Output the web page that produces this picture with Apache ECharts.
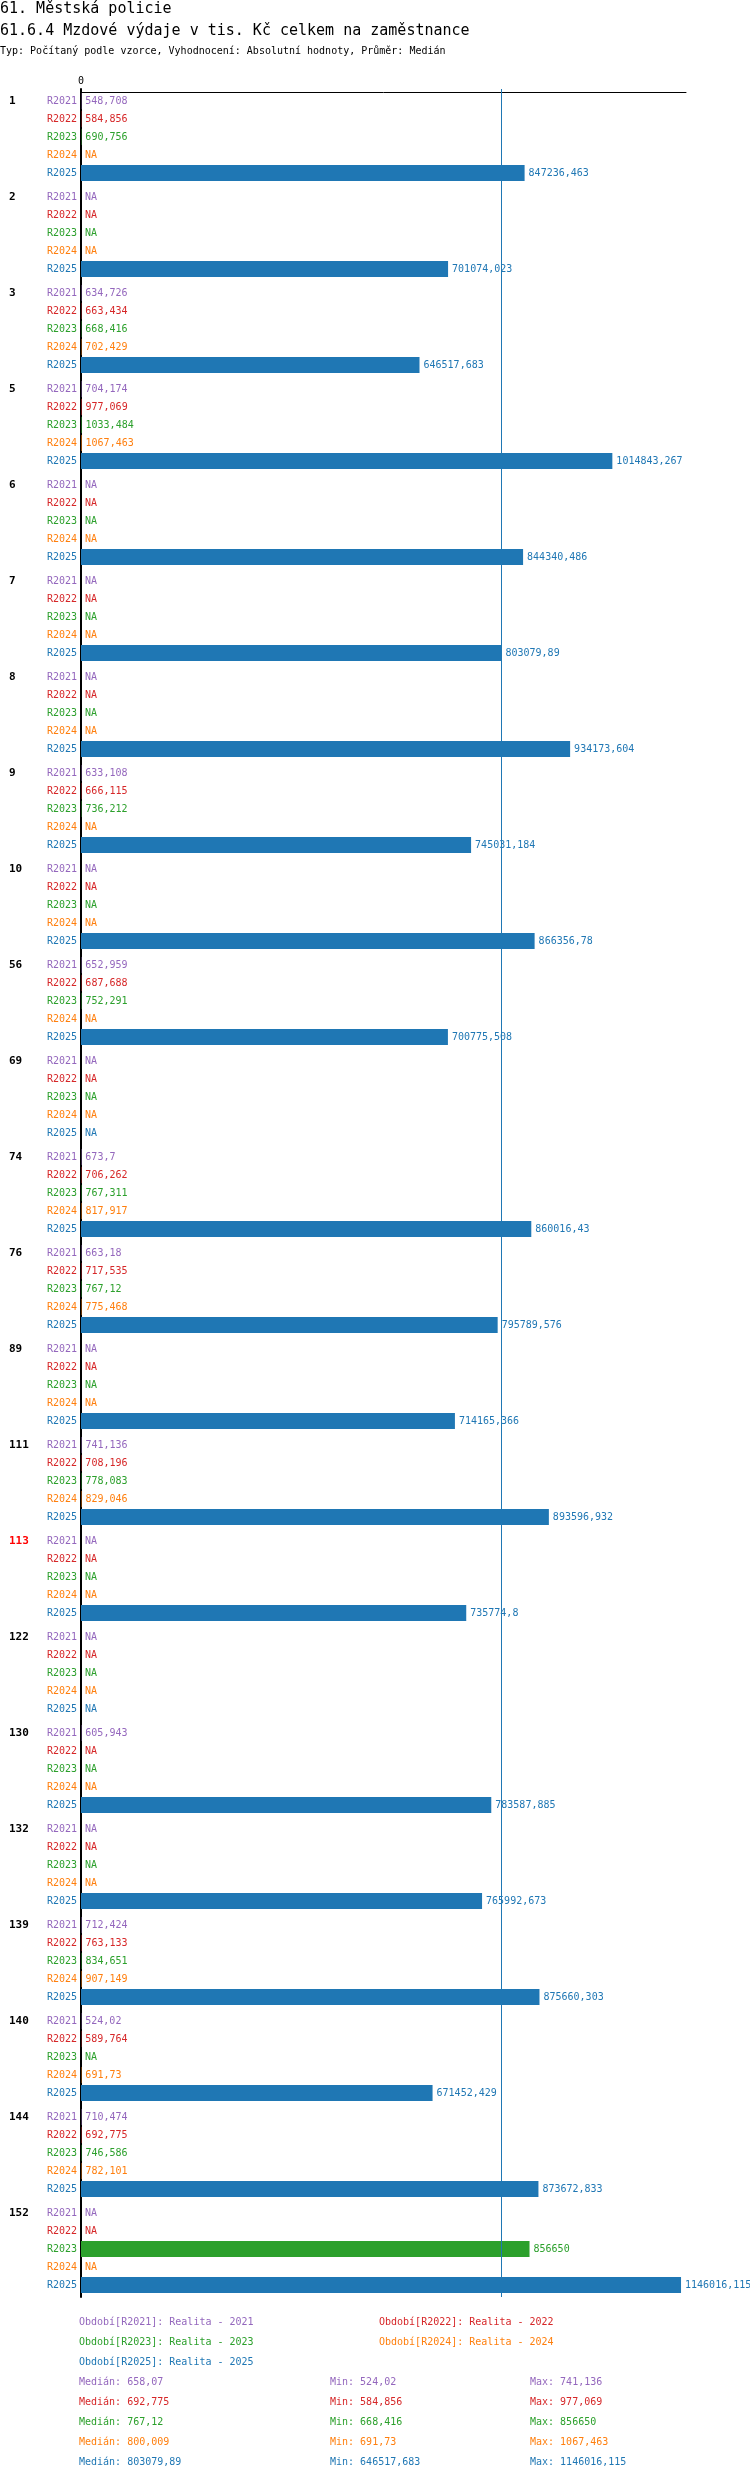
<!DOCTYPE html>
<html>
<head>
<meta charset="utf-8">
<script src="https://cdn.jsdelivr.net/npm/echarts@6/dist/echarts.min.js"></script>
<style>
  html, body { margin: 0; padding: 0; background: #fff; }
  #chart { width: 750px; height: 2480px; }
</style>
</head>
<body>
<div id="chart"></div>
<script>
// kategorie (obce) a hodnoty za jednotlivá období
var groups = ['1', '2', '3', '5', '6', '7', '8', '9', '10', '56', '69', '74', '76', '89', '111', '113', '122', '130', '132', '139', '140', '144', '152'];
var periods = ['R2021', 'R2022', 'R2023', 'R2024', 'R2025'];
var periodNames = ['Realita - 2021', 'Realita - 2022', 'Realita - 2023', 'Realita - 2024', 'Realita - 2025'];

var r2021 = [548.708, null, 634.726, 704.174, null, null, null, 633.108, null, 652.959, null, 673.7, 663.18, null, 741.136, null, null, 605.943, null, 712.424, 524.02, 710.474, null];
var r2022 = [584.856, null, 663.434, 977.069, null, null, null, 666.115, null, 687.688, null, 706.262, 717.535, null, 708.196, null, null, null, null, 763.133, 589.764, 692.775, null];
var r2023 = [690.756, null, 668.416, 1033.484, null, null, null, 736.212, null, 752.291, null, 767.311, 767.12, null, 778.083, null, null, null, null, 834.651, null, 746.586, 856650];
var r2024 = [null, null, 702.429, 1067.463, null, null, null, null, null, null, null, 817.917, 775.468, null, 829.046, null, null, null, null, 907.149, 691.73, 782.101, null];
var r2025 = [847236.463, 701074.023, 646517.683, 1014843.267, 844340.486, 803079.89, 934173.604, 745031.184, 866356.78, 700775.508, null, 860016.43, 795789.576, 714165.366, 893596.932, 735774.8, null, 783587.885, 765992.673, 875660.303, 671452.429, 873672.833, 1146016.115];

// medián za období (jak je uveden v souhrnu)
var medians = [658.07, 692.775, 767.12, 800.009, 803079.89];

var values = [r2021, r2022, r2023, r2024, r2025];
var colors = ['#9467bd', '#d62728', '#2ca02c', '#ff7f0e', '#1f77b4'];
var xMax = 1155500;
var FONT = 'DejaVu Sans Mono';

function fmt(v) {
  if (v === null || v === undefined) return 'NA';
  return String(v).replace('.', ',');
}
function notNull(arr) {
  return arr.filter(function (v) { return v !== null; });
}

var chart = echarts.init(document.getElementById('chart'));

// sloupce - pro každé období jedna "popisková" řada a jedna hodnotová
var series = [];
periods.forEach(function (p, i) {
  series.push({
    type: 'bar',
    name: p + '_lbl',
    stack: 's' + i,
    barWidth: 16,
    barGap: '12.5%',
    silent: true,
    data: groups.map(function () { return 0; }),
    itemStyle: { color: colors[i] },
    label: {
      show: true,
      position: 'left',
      distance: 4,
      formatter: p,
      color: colors[i],
      fontFamily: FONT,
      fontSize: 10
    }
  });
  var s = {
    type: 'bar',
    name: p,
    stack: 's' + i,
    barWidth: 16,
    barGap: '12.5%',
    silent: true,
    data: values[i].map(function (v) { return v === null ? 0 : v; }),
    itemStyle: { color: colors[i] },
    label: {
      show: true,
      position: 'right',
      distance: 4,
      formatter: function (params) { return fmt(values[i][params.dataIndex]); },
      color: colors[i],
      fontFamily: FONT,
      fontSize: 10
    }
  };
  if (i === 4) {
    s.markLine = {
      silent: true,
      symbol: 'none',
      label: { show: false },
      lineStyle: { color: colors[4], width: 1, type: 'solid' },
      data: [{ xAxis: medians[4] }]
    };
  }
  series.push(s);
});

// texty nahoře a souhrn dole
var graphics = [
  { type: 'text', x: 0, y: 9, style: { text: '61. Městská policie', font: '15px ' + FONT, fill: '#000', verticalAlign: 'middle' } },
  { type: 'text', x: 0, y: 31, style: { text: '61.6.4 Mzdové výdaje v tis. Kč celkem na zaměstnance', font: '15px ' + FONT, fill: '#000', verticalAlign: 'middle' } },
  { type: 'text', x: 0, y: 51, style: { text: 'Typ: Počítaný podle vzorce, Vyhodnocení: Absolutní hodnoty, Průměr: Medián', font: '10px ' + FONT, fill: '#000', verticalAlign: 'middle' } }
];
periods.forEach(function (p, i) {
  graphics.push({
    type: 'text',
    x: i % 2 === 0 ? 79 : 379,
    y: 2322 + Math.floor(i / 2) * 20,
    style: { text: 'Období[' + p + ']: ' + periodNames[i], font: '10px ' + FONT, fill: colors[i], verticalAlign: 'middle' }
  });
  var vals = notNull(values[i]);
  var y = 2382 + i * 20;
  graphics.push({ type: 'text', x: 79, y: y, style: { text: 'Medián: ' + fmt(medians[i]), font: '10px ' + FONT, fill: colors[i], verticalAlign: 'middle' } });
  graphics.push({ type: 'text', x: 330, y: y, style: { text: 'Min: ' + fmt(Math.min.apply(null, vals)), font: '10px ' + FONT, fill: colors[i], verticalAlign: 'middle' } });
  graphics.push({ type: 'text', x: 530, y: y, style: { text: 'Max: ' + fmt(Math.max.apply(null, vals)), font: '10px ' + FONT, fill: colors[i], verticalAlign: 'middle' } });
});

var groupLabel = {
  align: 'left',
  lineHeight: 18,
  color: '#000',
  fontFamily: FONT,
  fontWeight: 'bold',
  fontSize: 11
};

var option = {
  animation: false,
  backgroundColor: '#fff',
  grid: { left: 81, right: 64, top: 89, height: 2208, outerBoundsMode: 'none', containLabel: false },
  xAxis: {
    type: 'value',
    position: 'top',
    min: 0,
    max: xMax,
    offset: -3,
    splitLine: { show: false },
    axisTick: { show: false },
    axisLine: { show: true, lineStyle: { color: '#000', width: 1 } },
    axisLabel: {
      margin: 6,
      color: '#000',
      fontFamily: FONT,
      fontSize: 10,
      formatter: function (v) { return v === 0 ? '0' : ''; }
    }
  },
  yAxis: {
    type: 'category',
    inverse: true,
    data: groups.map(function (g) {
      return g === '113' ? { value: g, textStyle: Object.assign({}, groupLabel, { color: '#ff0000' }) } : g;
    }),
    axisTick: { show: false },
    axisLine: { show: true, lineStyle: { color: '#000', width: 2 } },
    axisLabel: Object.assign({
      margin: 72,
      hideOverlap: false,
      // popisek obce patří k prvnímu řádku skupiny (R2021)
      formatter: function (v) { return v + '\n \n \n \n '; }
    }, groupLabel)
  },
  series: series,
  graphic: graphics
};

chart.setOption(option);
</script>
</body>
</html>
